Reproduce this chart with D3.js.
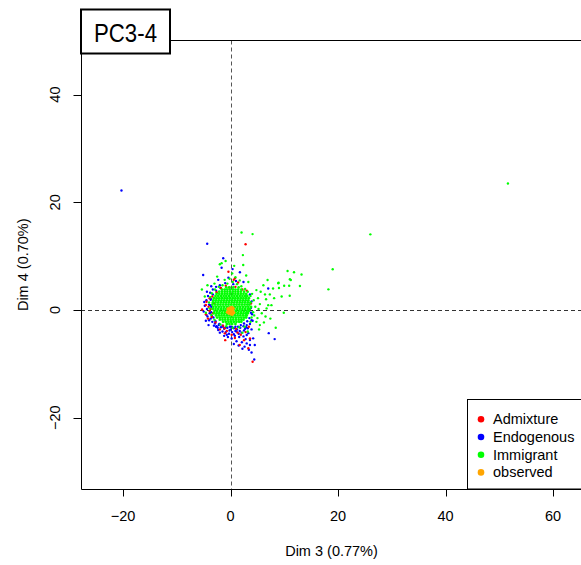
<!DOCTYPE html>
<html>
<head>
<meta charset="utf-8">
<script src="https://cdn.jsdelivr.net/npm/d3@7"></script>
<style>
  body { margin: 0; background: #fff; }
  svg { display: block; }
  text { font-family: "Liberation Sans", Arial, sans-serif; }
</style>
</head>
<body>
<svg id="chart" width="581" height="565"></svg>
<script>
// tick values
var xTicks = [-20, 0, 20, 40, 60];
var yTicks = [-20, 0, 20, 40];

// legend
var groups = ["Admixture", "Endogenous", "Immigrant", "observed"];
var groupColors = ["#ff0000", "#0000ff", "#00ff00", "#ffa500"];

// Endogenous (blue) points, [dim3, dim4]
var endogenous = [
  [-20.3,22.2],[-4.35,12.3],[-1.37,9.6],[-1.67,7.85],[0.37,7.6],[1.73,7.0],[-5.1,6.5],[7.0,4.0],
  [7.1,-4.3],[8.2,-5.4],[3.0,-4.64],[3.6,-5.57],[4.2,-5.26],[3.0,-6.2],[3.6,-6.5],[4.5,-6.5],[4.4,-9.2],
  [-2.6,-3.0],[-2.3,-3.7],[-2.9,-2.5],[-0.13,-3.1],[1.1,-4.0],[2.05,-4.2],[0.8,-4.8],[-2.7,-3.1],
  [-4.2,2.6],[-4.5,1.8],[-4.0,1.0],[-4.4,0.2],[-3.9,-0.6],[-4.3,-1.2],[-3.7,-1.6],[-3.4,-2.2],[-4.6,-2.0],
  [-3.8,3.2],[-3.3,3.8],[-4.8,0.8],[-5.0,-0.3],[-3.6,0.6],[-3.7,1.9],[-4.1,-2.8],[-3.1,-2.9],
  [-1.8,-3.2],[-1.2,-3.5],[-0.6,-3.3],[0.0,-3.6],[0.6,-3.4],[1.2,-3.6],[1.8,-3.3],[2.4,-3.0],[3.0,-2.8],
  [-1.5,-4.0],[-0.9,-4.1],[-0.3,-4.4],[0.3,-4.1],[0.9,-3.9],[1.5,-4.4],[2.5,-3.8],[3.2,-3.4],
  [-0.5,-5.0],[0.2,-5.3],[1.6,-5.0],[2.4,-4.9],[2.8,-5.4],[3.3,-4.3],[3.9,-3.6],[3.6,-2.6],[4.1,-2.0],
  [1.1,-5.8],[2.1,-6.0],[2.6,-6.8],[3.4,-7.4],[3.9,-7.9],[2.2,-7.2],[-1.2,-4.8],[-2.0,-4.2],[0.6,-6.3],[1.5,-6.6],
  [3.8,0.4],[4.0,-0.8],[3.9,1.6],[3.6,2.9],[-2.0,4.6],[-1.0,5.0],[-2.7,4.3],[1.0,5.4],[-0.4,6.0],
  [2.4,5.2],[-2.3,5.6],[-3.6,4.4],[0.5,4.8],[-1.4,-3.1],[-2.2,-2.8],[0.3,-3.2],[1.4,-3.1],[2.7,-3.5],
  [-3.2,-1.4],[-2.8,-2.1],[-2.1,-2.6],[-1.5,-2.9],[-0.9,-3.2],[0.1,-3.1],[0.9,-3.1],[1.9,-2.8],
  [2.5,-2.5],[3.1,-2.1],[3.5,-1.5],[-3.6,-0.4],[-3.8,0.9],[-3.7,2.1],[-3.3,2.9],[-2.7,3.6],
  [-1.9,4.1],[3.8,-0.5],[3.9,-1.9],[-3.5,-1.1],[-2.4,-3.3],[-0.2,-3.8],[1.7,-3.9],[2.9,-3.2],
  [-4.0,-1.9],[-4.5,-0.9],[-4.9,1.5],[-4.4,3.4],[0.6,-4.5],[-0.7,-4.6]
];

// Admixture (red) points
var admixture = [
  [2.79,12.2],[-4.47,1.54],[-4.6,0.93],[-4.6,-0.8],[3.3,-7.1],[1.7,-6.5],[-1.06,-4.33],[4.1,-9.6],[3.6,-5.3],
  [-3.9,2.2],[-3.5,-1.3],[-3.1,1.3],[-2.8,-2.3],[-2.0,-3.6],[-1.4,-2.9],[-0.7,-3.9],[0.2,-4.6],[1.0,-3.5],
  [1.9,-4.6],[2.8,-4.1],[3.4,-3.1],[-3.7,0.2],[-2.6,3.3],[-1.8,4.1],[-0.9,4.5],[0.6,5.6],[1.4,5.1],
  [-0.3,4.2],[0.9,4.3],[2.2,3.8],[3.0,3.6],[-4.2,-1.6],[-3.3,-0.6],[-5.3,0.1],[-1.0,-5.6],[2.5,-5.6],
  [-0.4,7.1],[0.8,-5.2],[3.8,1.2],[0.8,5.9],[-3.9,-0.2],[-4.1,0.6],[-3.4,2.5],[-1.1,-3.4],[1.3,-4.2]
];

// Immigrant (green) scattered points
var immigrant = [
  [51.6,23.5],[26.0,14.05],[19.0,7.56],[18.2,3.84],[2.04,14.4],[4.09,14.1],[2.29,10.2],[-2.0,8.5],
  [-1.67,8.7],[-0.93,9.1],[0.67,8.2],[2.35,8.36],[-5.34,3.8],[10.6,7.24],[11.8,7.0],[13.2,6.6],
  [6.88,5.57],[8.93,5.07],[11.03,5.7],[8.86,4.96],[9.97,4.5],[10.9,4.5],[11.2,5.57],[12.9,4.46],
  [7.9,4.0],[9.0,4.1],[4.8,3.7],[6.4,2.9],[7.3,2.9],[8.1,2.2],[9.5,2.5],[11.0,2.66],[6.6,2.0],
  [7.0,0.9],[5.1,2.2],[5.45,1.1],[6.7,0.3],[7.6,0.9],[9.9,-0.5],[8.4,-3.3],[4.8,-2.2],[5.45,-2.8],
  [4.0,3.0],[4.3,1.8],[4.6,0.6],[4.2,-0.4],[3.9,-1.4],[4.4,-1.0],[5.2,0.2],[5.8,-0.6],[5.0,-1.5],
  [3.7,-2.2],[2.6,-3.1],[1.6,-3.2],[0.4,-3.3],[-0.8,-3.0],[-1.9,-2.7],[-3.0,-1.8],[-3.6,-0.9],
  [-3.9,0.3],[-4.0,1.4],[-3.8,2.4],[-3.5,3.1],[-2.9,3.8],[-2.2,4.3],[-1.5,4.6],[-0.6,4.9],[0.4,5.2],
  [1.2,4.8],[2.0,4.4],[2.7,3.9],[3.2,3.4],[3.7,2.6],[-0.2,5.8],[0.9,6.1],[-1.1,5.6],[1.7,5.5],
  [-3.0,4.9],[-4.3,4.6],[-4.8,2.5],[2.9,6.4],[3.3,5.2],[-2.5,6.2],[0.3,6.8],[5.6,3.4],[6.1,4.6],
  [-4.6,-0.5],[3.2,-4.0],[2.2,-4.2],[5.3,-3.6],[6.5,-1.2],[6.2,-2.3],[7.4,-1.6]
];

// Immigrant (green) dense core, one row per dim4 value: [dim4, [dim3 values]]
var immigrantCore = [
  [4.2, [-0.8,-0.2,0.5,1.5]],
  [3.8, [-1.6,-1.1,-0.6,-0.1,0.4,0.9,1.4,2.0]],
  [3.4, [-2.1,-1.6,-1.1,-0.6,-0.1,0.4,0.9,1.4,1.9,2.5]],
  [3.0, [-2.6,-2.1,-1.6,-1.1,-0.6,-0.1,0.4,0.9,1.4,1.9,2.4,2.9]],
  [2.6, [-2.8,-2.3,-1.8,-1.3,-0.8,-0.3,0.2,0.7,1.2,1.7,2.2,2.7,3.1]],
  [2.2, [-3.1,-2.6,-2.1,-1.6,-1.1,-0.6,-0.1,0.4,0.9,1.4,1.9,2.4,2.9,3.4]],
  [1.8, [-3.2,-2.7,-2.2,-1.7,-1.2,-0.7,-0.2,0.3,0.8,1.3,1.8,2.3,2.8,3.3]],
  [1.4, [-3.3,-2.8,-2.3,-1.8,-1.3,-0.8,-0.3,0.2,0.7,1.2,1.7,2.2,2.7,3.2,3.7]],
  [1.0, [-3.4,-2.9,-2.4,-1.9,-1.4,-0.9,-0.4,0.1,0.6,1.1,1.6,2.1,2.6,3.1,3.5]],
  [0.6, [-3.2,-2.7,-2.2,-1.7,-1.2,-0.7,-0.2,0.3,0.8,1.3,1.8,2.3,2.8,3.3,3.8]],
  [0.2, [-3.3,-2.8,-2.3,-1.8,-1.3,-0.8,-0.3,0.2,0.7,1.2,1.7,2.2,2.7,3.2,3.6]],
  [-0.2, [-3.0,-2.5,-2.0,-1.5,-1.0,-0.5,0.0,0.5,1.0,1.5,2.0,2.5,3.0,3.4]],
  [-0.6, [-3.1,-2.6,-2.1,-1.6,-1.1,-0.6,-0.1,0.4,0.9,1.4,1.9,2.4,2.9,3.2]],
  [-1.0, [-2.7,-2.2,-1.7,-1.2,-0.7,-0.2,0.3,0.8,1.3,1.8,2.3,2.8,3.0]],
  [-1.4, [-2.5,-2.0,-1.5,-1.0,-0.5,0.0,0.5,1.0,1.5,2.0,2.5,2.9]],
  [-1.8, [-2.0,-1.5,-1.0,-0.5,0.0,0.5,1.0,1.5,2.0,2.4]],
  [-2.2, [-1.4,-0.9,-0.4,0.1,0.6,1.1,1.6,2.0]],
  [-2.6, [-0.7,-0.2,0.3,0.9]]
];

// observed (orange) points
var observed = [
  [0,0],[0.3,0.2],[-0.3,0.1],[0.1,-0.4],[-0.2,-0.3],[0.4,-0.2],[-0.4,-0.3],[0.2,0.5],
  [-0.1,0.4],[0.5,0.3],[-0.5,0.2],[0.0,-0.7],[0.6,-0.5],[-0.6,-0.4],[0.3,-0.8],[-0.3,-0.6]
];

var svg = d3.select("#chart");
var pLeft = 81, pRight = 582, pTop = 40.5, pBottom = 489;

var x = d3.scaleLinear().domain([-27.83, 65.38]).range([pLeft, pRight]);
var y = d3.scaleLinear().domain([-33.24, 50.05]).range([pBottom, pTop]);

var plot = svg.append("g");
plot.append("clipPath").attr("id", "clip")
  .append("rect").attr("x", pLeft).attr("y", pTop).attr("width", pRight - pLeft).attr("height", pBottom - pTop);

// zero lines
plot.append("line")
  .attr("x1", Math.round(x(0)) + 0.5).attr("x2", Math.round(x(0)) + 0.5).attr("y1", pTop).attr("y2", pBottom)
  .attr("stroke", "#555").attr("stroke-width", 1).attr("stroke-dasharray", "4,3");
plot.append("line")
  .attr("x1", pLeft).attr("x2", pRight).attr("y1", Math.round(y(0)) + 0.5).attr("y2", Math.round(y(0)) + 0.5)
  .attr("stroke", "#333").attr("stroke-width", 1).attr("stroke-dasharray", "4,3");

var pts = plot.append("g").attr("clip-path", "url(#clip)");

function drawPoints(data, color, r){
  pts.append("g").selectAll("circle")
    .data(data).enter().append("circle")
    .attr("cx", function(d){ return x(d[0]); })
    .attr("cy", function(d){ return y(d[1]); })
    .attr("r", r)
    .attr("fill", color);
}

var corePts = [];
immigrantCore.forEach(function(row){
  row[1].forEach(function(v){ corePts.push([v, row[0]]); });
});

drawPoints(endogenous, groupColors[1], 1.2);
drawPoints(admixture, groupColors[0], 1.2);
drawPoints(immigrant, groupColors[2], 1.2);
drawPoints(corePts, groupColors[2], 1.4);
drawPoints(observed, groupColors[3], 1.6);

// box (left, top, bottom)
svg.append("path")
  .attr("d", "M" + pRight + "," + pTop + "H" + (pLeft + 0.5) + "V" + (pBottom + 0.5) + "H" + pRight)
  .attr("fill", "none").attr("stroke", "#000").attr("stroke-width", 1);

// x axis
var xa = svg.append("g").attr("class", "x-axis");
xa.selectAll("line").data(xTicks).enter().append("line")
  .attr("x1", function(d){ return Math.round(x(d)) + 0.5; })
  .attr("x2", function(d){ return Math.round(x(d)) + 0.5; })
  .attr("y1", pBottom).attr("y2", pBottom + 7.5)
  .attr("stroke", "#000");
xa.selectAll("text").data(xTicks).enter().append("text")
  .attr("x", function(d){ return x(d); })
  .attr("y", 521)
  .attr("text-anchor", "middle")
  .attr("font-size", "14.5px")
  .text(function(d){ return d < 0 ? "\u2212" + Math.abs(d) : d; });

// y axis
var ya = svg.append("g").attr("class", "y-axis");
ya.selectAll("line").data(yTicks).enter().append("line")
  .attr("x1", pLeft - 7.5).attr("x2", pLeft)
  .attr("y1", function(d){ return Math.round(y(d)) + 0.5; })
  .attr("y2", function(d){ return Math.round(y(d)) + 0.5; })
  .attr("stroke", "#000");
ya.selectAll("text").data(yTicks).enter().append("text")
  .attr("transform", function(d){ return "translate(60," + y(d) + ") rotate(-90)"; })
  .attr("text-anchor", "middle")
  .attr("font-size", "14.5px")
  .text(function(d){ return d < 0 ? "\u2212" + Math.abs(d) : d; });

// axis titles
svg.append("text")
  .attr("x", (pLeft + pRight) / 2).attr("y", 556)
  .attr("text-anchor", "middle").attr("font-size", "14.5px")
  .text("Dim 3 (0.77%)");
svg.append("text")
  .attr("transform", "translate(28," + ((pTop + pBottom) / 2) + ") rotate(-90)")
  .attr("text-anchor", "middle").attr("font-size", "14.5px")
  .text("Dim 4 (0.70%)");

// legend
var lg = svg.append("g");
lg.append("rect")
  .attr("x", 467.5).attr("y", 399.5).attr("width", 130).attr("height", pBottom - 399.5)
  .attr("fill", "#fff").attr("stroke", "#000");
groups.forEach(function(g, i){
  var cy = 419.3 + i * 17.7;
  lg.append("circle").attr("cx", 481).attr("cy", cy).attr("r", 3.3).attr("fill", groupColors[i]);
  lg.append("text").attr("x", 493).attr("y", cy + 5).attr("font-size", "14.5px").text(g);
});

// title box
svg.append("rect")
  .attr("x", 81).attr("y", 9.5).attr("width", 89).attr("height", 44)
  .attr("fill", "#fff").attr("stroke", "#000").attr("stroke-width", 2);
svg.append("text")
  .attr("x", 94).attr("y", 42)
  .attr("font-family", "'Open Sans', sans-serif")
  .attr("font-size", "26px")
  .attr("textLength", 63)
  .attr("lengthAdjust", "spacingAndGlyphs")
  .text("PC3-4");
</script>
</body>
</html>
